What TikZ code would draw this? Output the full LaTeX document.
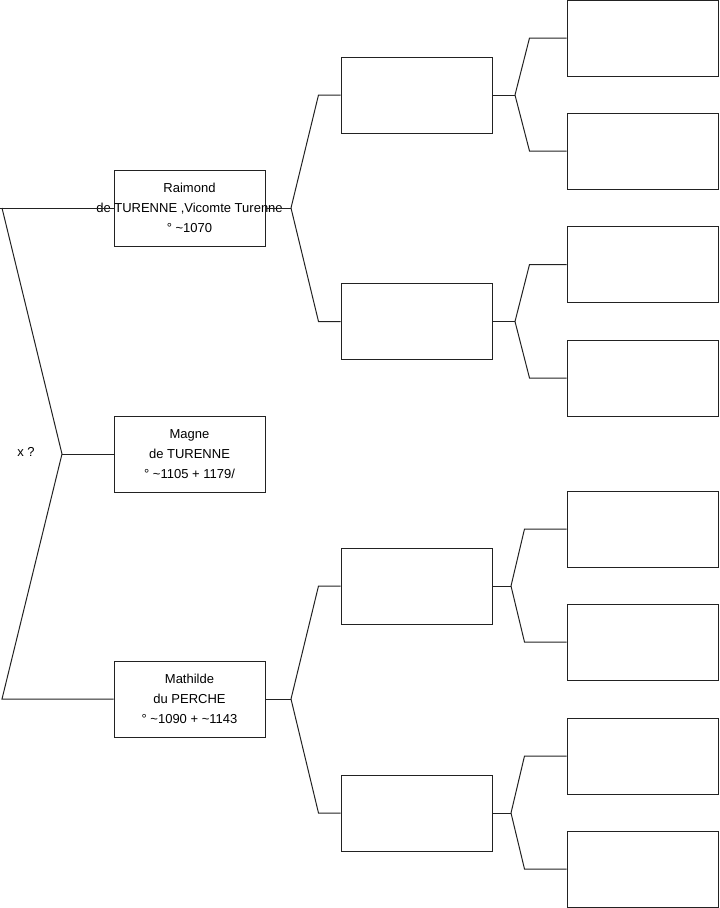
\documentclass[tikz,border=0pt]{standalone}
\usepackage{fontspec}
\setmainfont{Liberation Sans}
\usepackage{xcolor}
\usetikzlibrary{positioning}
\definecolor{inkline}{HTML}{222222}
\tikzset{
  personbox/.style={draw=inkline,line width=0.75pt,minimum width=113.25pt,minimum height=57pt,
    inner sep=0pt,align=center,font=\fontsize{9.75}{15}\selectfont},
  treeline/.style={draw=inkline,line width=0.75pt}
}
\begin{document}
\begin{tikzpicture}[x=0.75pt,y=-0.75pt]
  \useasboundingbox (0,0) rectangle (719,908);
  % first generation
  \node[personbox] (raimond) at (189.5,208) {Raimond\\\makebox[0pt]{de TURENNE ,Vicomte Turenne}\\° \textasciitilde1070};
  \node[personbox] (magne) at (189.5,454) {Magne\\de TURENNE\\° \textasciitilde1105 + 1179/};
  \node[personbox] (mathilde) at (189.5,699) {Mathilde\\du PERCHE\\° \textasciitilde1090 + \textasciitilde1143};
  \node[font=\fontsize{9.75}{15}\selectfont] (xq) at (26,452) {x ?};
  % second generation
  \node[personbox] (pa) at (416.5,95) {};
  \node[personbox] (pb) at (416.5,321.5) {};
  \node[personbox] (pc) at (416.5,586) {};
  \node[personbox] (pd) at (416.5,813) {};
  % third generation
  \node[personbox] (qa) at (642.5,38) {};
  \node[personbox] (qb) at (642.5,151) {};
  \node[personbox] (qc) at (642.5,264.5) {};
  \node[personbox] (qd) at (642.5,378) {};
  \node[personbox] (qe) at (642.5,529) {};
  \node[personbox] (qf) at (642.5,642) {};
  \node[personbox] (qg) at (642.5,756) {};
  \node[personbox] (qh) at (642.5,869) {};
  % junctions
  \coordinate (xtop) at (0,208);
  \coordinate (xtopbend) at (2,208);
  \coordinate (xbot) at (2,699);
  \coordinate (jx) at (62,454);
  \coordinate (jr) at (291,208);
  \coordinate (jm) at (291,699);
  \coordinate (ja) at (515,95);
  \coordinate (jb) at (515,321.5);
  \coordinate (jc) at (511,586);
  \coordinate (jd) at (511,813);
  % connectors
  \draw[treeline] (raimond.west) -- (xtop);
  \draw[treeline] (xtopbend) -- (jx) -- (xbot) -- (mathilde.west);
  \draw[treeline] (jx) -- (magne.west);
  \draw[treeline] (raimond.east) -- (jr);
  \draw[treeline] (pa.west) -- +(-22,0) -- (jr);
  \draw[treeline] (pb.west) -- +(-22,0) -- (jr);
  \draw[treeline] (mathilde.east) -- (jm);
  \draw[treeline] (pc.west) -- +(-22,0) -- (jm);
  \draw[treeline] (pd.west) -- +(-22,0) -- (jm);
  \draw[treeline] (pa.east) -- (ja);
  \draw[treeline] (qa.west) -- +(-37,0) -- (ja);
  \draw[treeline] (qb.west) -- +(-37,0) -- (ja);
  \draw[treeline] (pb.east) -- (jb);
  \draw[treeline] (qc.west) -- +(-37,0) -- (jb);
  \draw[treeline] (qd.west) -- +(-37,0) -- (jb);
  \draw[treeline] (pc.east) -- (jc);
  \draw[treeline] (qe.west) -- +(-42,0) -- (jc);
  \draw[treeline] (qf.west) -- +(-42,0) -- (jc);
  \draw[treeline] (pd.east) -- (jd);
  \draw[treeline] (qg.west) -- +(-42,0) -- (jd);
  \draw[treeline] (qh.west) -- +(-42,0) -- (jd);
\end{tikzpicture}
\end{document}
